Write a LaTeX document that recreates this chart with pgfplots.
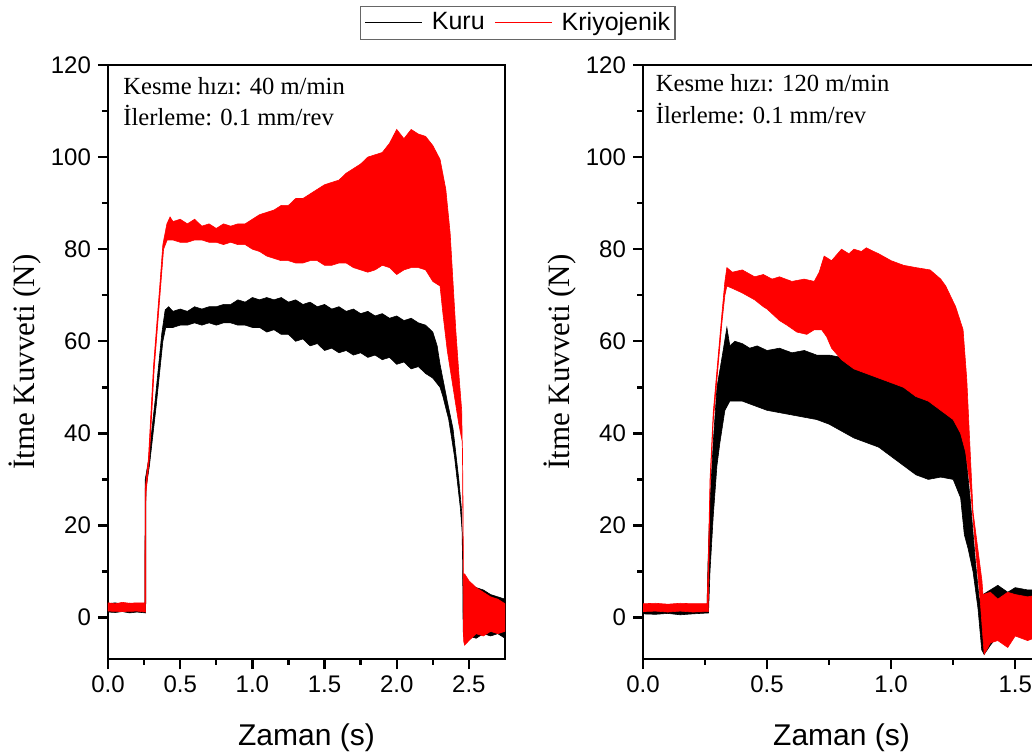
\documentclass[border=0pt]{standalone}
\usepackage{fontspec}
\setmainfont{Liberation Serif}
\newfontfamily\arial{Liberation Sans}
\usepackage{pgfplots}
\pgfplotsset{compat=1.18}
\pgfplotsset{panel/.style={
  scale only axis, width=198.5pt, height=297pt,
  xmin=0, ymin=-9, ymax=120,
  axis line style={line width=1.2pt},
  every tick/.style={line width=1.2pt, black},
  major tick length=5pt, minor tick length=3pt,
  tick align=outside, tick pos=left,
  ytick={0,20,40,60,80,100,120}, minor y tick num=1, minor x tick num=1,
  xticklabel style={font=\arial\fontsize{12}{13}\selectfont,/pgf/number format/.cd,fixed,fixed zerofill,precision=1,assume math mode=true},
  yticklabel style={font=\arial\fontsize{12}{13}\selectfont,/pgf/number format/assume math mode=true},
  xlabel style={font=\arial\fontsize{15}{16}\selectfont, at={(axis description cs:0.5,-0.1448)}, anchor=base},
  ylabel style={font=\fontsize{15.5}{16}\selectfont, at={(axis description cs:-0.209,0.5)}, anchor=center},
  xlabel={Zaman (s)}, ylabel={İtme Kuvveti (N)},
  legend image code/.code={\draw[#1] (0pt,0pt) -- (28.5pt,0pt);},
}}
\begin{document}
\begin{tikzpicture}
\useasboundingbox (0,0) rectangle (516pt,377pt);
\clip (0,0) rectangle (516pt,377pt);
% ---------------- left panel ----------------
\begin{axis}[panel, at={(54pt,47.5pt)}, anchor=south west, xmax=2.75,
  xtick={0,0.5,1,1.5,2,2.5},
  legend style={at={(rel axis cs:1.0327,1.0712)}, anchor=center, draw=black!60, line width=0.6pt,
    font=\arial\fontsize{12.5}{13}\selectfont, legend columns=2, inner xsep=2pt, inner ysep=2.5pt,
    nodes={inner sep=0.5pt},
    /tikz/every odd column/.append style={column sep=4pt},
    /tikz/every even column/.append style={column sep=4.5pt}}]
\addlegendimage{black, line width=0.5pt}\addlegendentry{Kuru}
\addlegendimage{red, line width=0.5pt}\addlegendentry{Kriyojenik}
% Kuru
\addplot[draw=black, fill=black, line width=0.3pt, forget plot] coordinates {
(0,3.0)(0.05,3.2)(0.1,2.9)(0.15,3.1)(0.2,3.0)(0.255,3.1)
(0.258,30)(0.28,34)(0.327,47.3)(0.373,61.8)(0.396,66.8)
(0.42,67.5)(0.45,66.5)(0.5,67)(0.55,66.5)(0.6,67.5)(0.65,67)(0.7,67.5)(0.75,67.5)(0.8,68)(0.85,68)(0.9,69)(0.95,68.5)(1.0,69.5)(1.05,69)(1.1,69.5)(1.15,69)(1.2,69.5)(1.25,68.5)(1.3,69)(1.35,68)(1.4,68.5)(1.45,67.5)(1.5,68)(1.55,67)(1.6,67.5)(1.65,66.5)(1.7,67)(1.75,66)(1.8,66.5)(1.85,65.5)(1.9,66)(1.95,65)(2.0,65.5)(2.05,64.5)(2.1,65)(2.15,64)(2.2,63.5)(2.25,62)(2.28,59)(2.3,55)(2.35,47)(2.39,41)(2.43,30)(2.45,23)(2.458,9)
(2.47,9)(2.5,7.5)(2.55,6.5)(2.6,6)(2.65,5)(2.7,4.5)(2.75,4)
(2.75,-4.5)(2.7,-3.5)(2.65,-4)(2.6,-3.5)(2.55,-4.5)(2.5,-4)(2.47,-5)(2.46,-3)(2.455,18)(2.44,24)(2.4,35)(2.36,43)(2.32,48)(2.3,50)(2.25,52)(2.2,53)(2.15,54.5)(2.1,54)(2.05,55.5)(2.0,55)(1.95,56.5)(1.9,56)(1.85,57)(1.8,56.5)(1.75,57.5)(1.7,57)(1.65,58)(1.6,57.5)(1.55,58.5)(1.5,58)(1.45,59.5)(1.4,59)(1.35,60.5)(1.3,60)(1.25,61.5)(1.2,61.5)(1.15,62.5)(1.1,62)(1.05,63)(1.0,63)(0.95,63.5)(0.9,63.5)(0.85,64)(0.8,64)(0.75,63.5)(0.7,64)(0.65,63.5)(0.6,64)(0.55,63.5)(0.5,63.5)(0.45,63)(0.42,63)(0.40,63)(0.38,60)(0.334,46)(0.287,33)(0.263,28)(0.261,1)(0.2,1.2)(0.15,1.0)(0.1,1.3)(0.05,1.1)(0,1.2)
} -- cycle;
% Kriyojenik
\addplot[draw=red, fill=red, line width=0.3pt, forget plot] coordinates {
(0,3.2)(0.05,3.0)(0.1,3.3)(0.15,3.1)(0.2,3.2)(0.255,3.2)
(0.258,28)(0.28,34.5)(0.315,54.5)(0.36,72.6)(0.38,81)(0.408,85.5)(0.43,87)(0.45,86)(0.5,86.5)(0.55,85.5)(0.6,86.5)(0.65,85)(0.7,85.5)(0.75,84.5)(0.8,85.5)(0.85,85)(0.9,85.5)(0.95,85.5)(1.0,86.5)(1.05,87.5)(1.1,88)(1.15,88.5)(1.2,89.5)(1.25,89.5)(1.3,91)(1.35,91)(1.4,92)(1.45,93)(1.5,94)(1.55,94.5)(1.6,95)(1.65,96.5)(1.7,97.5)(1.75,98.5)(1.8,100)(1.85,100.5)(1.9,101)(1.95,103)(2.0,106)(2.05,104)(2.1,106)(2.15,105)(2.2,104.5)(2.25,102.5)(2.3,99.5)(2.34,93)(2.37,83.5)(2.41,62)(2.435,51)(2.45,45)(2.458,30)(2.462,9.5)
(2.47,9.5)(2.5,8)(2.55,6.5)(2.6,5.5)(2.65,4.5)(2.7,4)(2.75,3)
(2.75,-3)(2.7,-3.5)(2.65,-3)(2.6,-4)(2.55,-3.5)(2.5,-5)(2.47,-6)(2.463,-5)(2.455,38)(2.43,42)(2.39,50)(2.35,58)(2.32,66)(2.3,72)(2.25,73)(2.2,75.5)(2.15,76)(2.1,76)(2.05,75.5)(2.0,74.5)(1.95,76)(1.9,76.5)(1.85,75.5)(1.8,75)(1.75,75.5)(1.7,76)(1.65,77)(1.6,77)(1.55,76.5)(1.5,76.5)(1.45,77.5)(1.4,77.5)(1.35,77)(1.3,77)(1.25,77.5)(1.2,77.5)(1.15,78)(1.1,78.5)(1.05,79.5)(1.0,80)(0.95,81)(0.9,81)(0.85,81.5)(0.8,81)(0.75,81.5)(0.7,81.5)(0.65,82)(0.6,82)(0.55,81.5)(0.5,81.5)(0.45,82)(0.41,82)(0.385,80)(0.365,72)(0.32,54)(0.285,34)(0.263,27)(0.261,1.2)(0.2,1.4)(0.1,1.3)(0,1.4)
} -- cycle;
\node[anchor=base west, inner sep=0pt, font=\fontsize{12.3}{13}\selectfont] at (axis cs:0.104,113.5) {Kesme hızı: 40 m/min};
\node[anchor=base west, inner sep=0pt, font=\fontsize{12.3}{13}\selectfont] at (axis cs:0.104,106.8) {İlerleme: 0.1 mm/rev};
\end{axis}
% ---------------- right panel ----------------
\begin{axis}[panel, at={(321.5pt,47.5pt)}, anchor=south west, xmax=1.6,
  xtick={0,0.5,1,1.5}]
% Kuru
\addplot[draw=black, fill=black, line width=0.3pt, forget plot] coordinates {
(0,2.6)(0.05,2.8)(0.1,2.5)(0.15,2.7)(0.2,2.6)(0.258,2.7)(0.262,12)(0.27,25)(0.283,38)(0.298,50)(0.32,57)(0.338,63)(0.35,59)(0.37,60)(0.4,59.5)(0.43,58.5)(0.46,59)(0.5,58)(0.55,58.5)(0.6,57.5)(0.65,58)(0.7,57)(0.75,57)(0.8,56.5)(0.85,56)(0.9,56.5)(0.95,56)(1.0,55.5)(1.05,55)(1.1,54)(1.15,52.5)(1.2,51)(1.25,48)(1.28,43)(1.3,36)(1.32,25)(1.34,12)(1.355,4)
(1.37,5)(1.4,6)(1.43,7)(1.47,5.5)(1.5,6.5)(1.55,6)(1.6,6)
(1.6,-3)(1.55,-4.5)(1.5,-3)(1.47,-5)(1.43,-4)(1.4,-6)(1.375,-8)(1.365,-7)(1.35,2)(1.33,10)(1.31,15)(1.295,18)(1.28,26)(1.25,30)(1.2,30.5)(1.15,30)(1.1,31)(1.05,33)(1.0,35)(0.95,37)(0.9,38)(0.85,39)(0.8,40.5)(0.75,42)(0.7,43)(0.65,43.5)(0.6,44)(0.55,44.5)(0.5,45)(0.45,46)(0.4,47)(0.35,47)(0.33,45)(0.31,38)(0.298,33)(0.283,22)(0.27,10)(0.264,1)(0.2,0.8)(0.15,0.6)(0.1,0.9)(0.05,0.7)(0,0.8)
} -- cycle;
% Kriyojenik
\addplot[draw=red, fill=red, line width=0.3pt, forget plot] coordinates {
(0,3.0)(0.05,3.1)(0.1,2.9)(0.15,3.1)(0.2,3.0)(0.258,3.0)(0.262,10)(0.27,30)(0.283,44.5)(0.318,66)(0.33,73)(0.338,76)(0.36,75)(0.4,75.5)(0.45,74)(0.485,74.5)(0.52,73.5)(0.55,74)(0.6,73)(0.65,73.5)(0.69,73)(0.71,75)(0.73,78.5)(0.76,77.5)(0.8,80)(0.83,79)(0.85,80)(0.88,79.5)(0.9,80.3)(0.93,79.5)(0.95,79)(1.0,77.5)(1.05,76.5)(1.1,76)(1.157,75.5)(1.2,73.5)(1.22,72)(1.26,67.5)(1.29,62.5)(1.305,51.6)(1.33,23)(1.366,8)(1.37,5)
(1.4,5.5)(1.43,4)(1.47,5.5)(1.5,5)(1.55,4.5)(1.6,5)
(1.6,-4)(1.55,-5)(1.5,-4)(1.47,-6.5)(1.43,-5)(1.4,-5.5)(1.375,-8)(1.36,3)(1.34,15)(1.32,28)(1.3,36)(1.28,40)(1.25,43)(1.2,45)(1.15,47)(1.1,48)(1.05,50)(1.0,51)(0.95,52)(0.9,53)(0.85,54)(0.8,56)(0.76,58.5)(0.74,61)(0.72,62.5)(0.69,62.5)(0.66,61.5)(0.62,62)(0.58,63.5)(0.55,64.5)(0.5,67)(0.485,67.5)(0.45,69)(0.4,70.5)(0.36,71.5)(0.338,72)(0.33,70)(0.318,64)(0.283,42.5)(0.27,28)(0.263,1.3)(0.2,1.2)(0.15,1.4)(0.1,1.2)(0.05,1.4)(0,1.3)
} -- cycle;
\node[anchor=base west, inner sep=0pt, font=\fontsize{12.3}{13}\selectfont] at (axis cs:0.05,114.2) {Kesme hızı: 120 m/min};
\node[anchor=base west, inner sep=0pt, font=\fontsize{12.3}{13}\selectfont] at (axis cs:0.05,107.3) {İlerleme: 0.1 mm/rev};
\end{axis}
\end{tikzpicture}
\end{document}
